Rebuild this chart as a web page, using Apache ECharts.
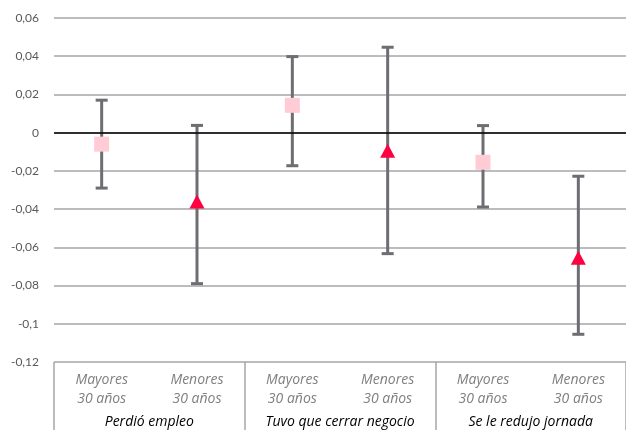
<!DOCTYPE html>
<html>
<head>
<meta charset="utf-8">
<script src="https://cdn.jsdelivr.net/npm/echarts@6/dist/echarts.min.js"></script>
<style>
	html, body { margin: 0; padding: 0; background: #fff; }
	#chart { width: 626px; height: 430px; }
</style>
</head>
<body>
<div id="chart"></div>
<script>
	// categorías (nivel 1 y nivel 2)
	var categorias = ['Mayores\n30 años', 'Menores\n30 años', 'Mayores\n30 años', 'Menores\n30 años', 'Mayores\n30 años', 'Menores\n30 años'];
	var grupos = ['Perdió empleo', 'Tuvo que cerrar negocio', 'Se le redujo jornada'];

	// estimaciones puntuales
	var mayores = [-0.006, null, 0.0143, null, -0.0155, null];
	var menores = [null, -0.036, null, -0.0094, null, -0.0654];

	// intervalos de confianza
	var inferior = [-0.029, -0.079, -0.0173, -0.0633, -0.0389, -0.1055];
	var superior = [0.017, 0.0038, 0.0398, 0.0447, 0.0037, -0.0228];

	var fuente = 'Lato, "Open Sans", sans-serif';
	var fuenteEje = '"Open Sans", Lato, sans-serif';

	var intervalos = [];
	for (var i = 0; i < categorias.length; i++) {
		intervalos.push([i, inferior[i], superior[i]]);
	}

	function fmt(v) {
		return String(parseFloat(v.toFixed(2))).replace('.', ',');
	}

	var myChart = echarts.init(document.getElementById('chart'));
	myChart.setOption({
		animation: false,
		backgroundColor: '#fff',
		grid: { left: 54, right: 0, top: 18, bottom: 68 },
		xAxis: [{
			type: 'category',
			data: categorias,
			axisLine: { show: false },
			axisTick: { show: false },
			axisLabel: {
				interval: 0,
				margin: 9,
				color: '#7f7f7f',
				fontFamily: fuenteEje,
				fontStyle: 'italic',
				fontSize: 14,
				lineHeight: 19
			}
		}, {
			type: 'category',
			data: grupos,
			position: 'bottom',
			axisLine: { show: false },
			axisTick: {
				show: true,
				inside: false,
				length: 68,
				lineStyle: { color: '#a6a6a6', width: 1.5 }
			},
			axisLabel: {
				interval: 0,
				margin: 53,
				color: '#000',
				fontFamily: fuenteEje,
				fontStyle: 'italic',
				fontSize: 14
			}
		}],
		yAxis: {
			type: 'value',
			min: -0.12,
			max: 0.06,
			interval: 0.02,
			axisLine: { show: false },
			axisTick: { show: false },
			axisLabel: {
				margin: 15,
				color: '#595959',
				fontFamily: fuente,
				fontSize: 12,
				formatter: fmt
			},
			splitLine: { lineStyle: { color: '#a6a6a6', width: 1.5 } }
		},
		series: [{
			type: 'custom',
			data: intervalos,
			renderItem: function (params, api) {
				var x = api.value(0);
				var lo = api.coord([x, api.value(1)]);
				var hi = api.coord([x, api.value(2)]);
				var cap = 6;
				var estilo = { stroke: '#6d6d72', lineWidth: 3 };
				return {
					type: 'group',
					children: [
						{ type: 'line', shape: { x1: lo[0], y1: lo[1], x2: hi[0], y2: hi[1] }, style: estilo },
						{ type: 'line', shape: { x1: lo[0] - cap, y1: lo[1], x2: lo[0] + cap, y2: lo[1] }, style: estilo },
						{ type: 'line', shape: { x1: hi[0] - cap, y1: hi[1], x2: hi[0] + cap, y2: hi[1] }, style: estilo }
					]
				};
			},
			z: 2
		}, {
			name: 'Mayores 30 años',
			type: 'scatter',
			data: mayores,
			symbol: 'rect',
			symbolSize: 15,
			itemStyle: { color: '#ffccd6', opacity: 1 },
			z: 3,
			markLine: {
				silent: true,
				symbol: 'none',
				label: { show: false },
				lineStyle: { color: '#000', width: 1.5, type: 'solid' },
				data: [{ yAxis: 0 }]
			}
		}, {
			name: 'Menores 30 años',
			type: 'scatter',
			data: menores,
			symbol: 'triangle',
			symbolSize: [15, 14],
			itemStyle: { color: '#ff0040', opacity: 1 },
			z: 3
		}]
	});
</script>
</body>
</html>
